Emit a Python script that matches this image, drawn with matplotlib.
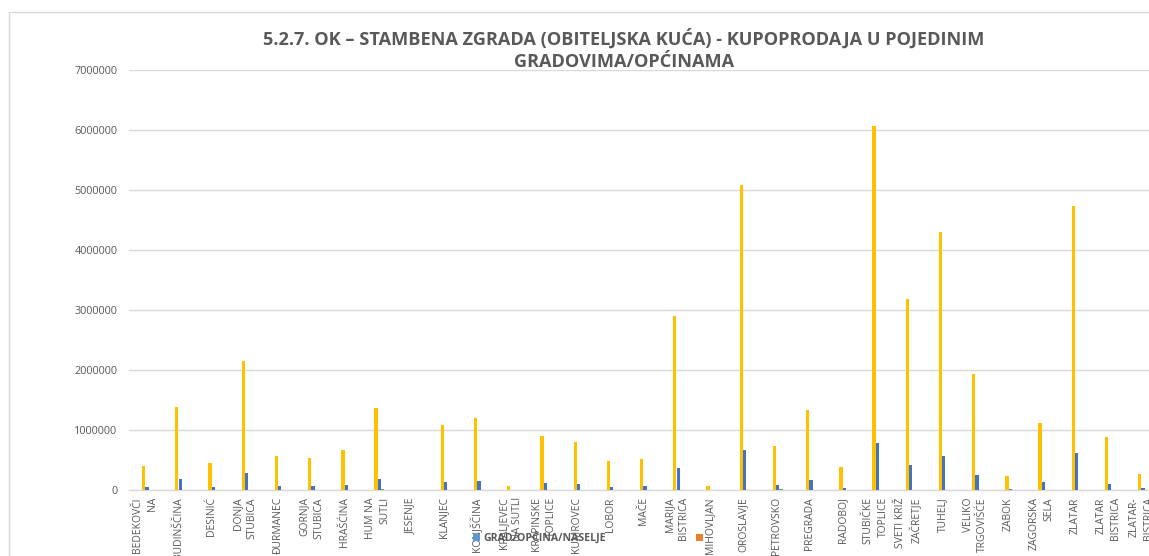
import matplotlib
matplotlib.use("Agg")
import matplotlib.pyplot as plt
from matplotlib.patches import Rectangle
import numpy as np

plt.rcParams['font.family'] = ['Open Sans', 'DejaVu Sans']

categories = [
    "BEDEKOVČI\nNA", "BUDINŠČINA", "DESINIĆ", "DONJA\nSTUBICA", "ĐURMANEC",
    "GORNJA\nSTUBICA", "HRAŠĆINA", "HUM NA\nSUTLI", "JESENJE", "KLANJEC",
    "KONJŠČINA", "KRALJEVEC\nNA SUTLI", "KRAPINSKE\nTOPLICE", "KUMROVEC", "LOBOR",
    "MAČE", "MARIJA\nBISTRICA", "MIHOVLJAN", "OROSLAVJE", "PETROVSKO",
    "PREGRADA", "RADOBOJ", "STUBIČKE\nTOPLICE", "SVETI KRIŽ\nZAČRETJE", "TUHELJ",
    "VELIKO\nTRGOVIŠĆE", "ZABOK", "ZAGORSKA\nSELA", "ZLATAR", "ZLATAR\nBISTRICA",
    "ZLATAR-\nBISTRICA",
]

yellow_vals = [
    405000, 1390000, 450000, 2155000, 572000,
    533000, 672000, 1372000, 0, 1088000,
    1205000, 72000, 905000, 810000, 489000,
    528000, 2910000, 70000, 5090000, 744000,
    1344000, 383000, 6067000, 3183000, 4300000,
    1944000, 244000, 1117000, 4733000, 883000,
    267000,
]

blue_vals = [
    55000, 183000, 55000, 283000, 72000,
    68000, 88000, 183000, 0, 144000,
    155000, 0, 122000, 105000, 55000,
    66000, 380000, 0, 667000, 94000,
    167000, 44000, 795000, 417000, 567000,
    250000, 28000, 144000, 622000, 111000,
    33000,
]

green_vals = [
    0, 0, 0, 0, 0,
    0, 0, 15000, 0, 0,
    0, 0, 0, 0, 0,
    0, 8000, 0, 0, 28000,
    0, 0, 0, 0, 0,
    0, 0, 0, 10000, 0,
    0,
]

legend_label = "GRAD/OPĆINA/NASELJE"
title = "5.2.7. OK – STAMBENA ZGRADA (OBITELJSKA KUĆA) - KUPOPRODAJA U POJEDINIM\nGRADOVIMA/OPĆINAMA"

W, H = 1149, 556
fig = plt.figure(figsize=(W / 100, H / 100), dpi=100)

# chart frame (partially cropped)
fig.patches.append(Rectangle((9 / W, -0.1), 1.2, (H - 12) / H + 0.1,
                             transform=fig.transFigure, fill=False,
                             edgecolor='#D9D9D9', linewidth=1.0))

left_px, right_px = 128.7, 1149
bottom_px, top_px = 490.3, 70.3
ax = fig.add_axes([left_px / W, (H - bottom_px) / H,
                   (right_px - left_px) / W, (bottom_px - top_px) / H])

x = np.arange(len(categories))
bw = 0.1
ax.bar(x - bw / 2, yellow_vals, width=bw, color='#FFC000', zorder=3)
ax.bar(x + bw / 2, blue_vals, width=bw, color='#4472C4', zorder=3)
ax.bar(x + 1.5 * bw, green_vals, width=bw, color='#70AD47', zorder=3)

slot = 33.2
ax.set_xlim(-0.5, (right_px - left_px) / slot - 0.5)
ax.set_ylim(0, 7000000)
ax.set_yticks(np.arange(0, 7000001, 1000000))
ax.set_yticklabels([str(v) for v in range(0, 7000001, 1000000)])
ax.grid(axis='y', color='#D9D9D9', linewidth=1.0, zorder=0)
ax.set_axisbelow(True)
for s in ['top', 'right', 'left']:
    ax.spines[s].set_visible(False)
ax.spines['bottom'].set_color('#D9D9D9')
ax.spines['bottom'].set_linewidth(1.0)

ax.set_xticks(x)
ax.set_xticklabels(categories, rotation=90, ha='center', va='top',
                   multialignment='right', linespacing=1.45)
ax.tick_params(axis='x', length=0, pad=5, labelsize=7.5, labelcolor='#595959')
ax.tick_params(axis='y', length=0, pad=8, labelsize=7.8, labelcolor='#595959')

fig.text(624 / W, 1 - 28.5 / H, title, ha='center', va='top', fontsize=13.1,
         fontweight='bold', color='#595959', linespacing=1.3)

# legend (bottom, partially overlapping the labels)
fig.patches.append(Rectangle((473 / W, 1 - 541 / H), 7 / W, 7 / H,
                             transform=fig.transFigure, facecolor='#5B9BD5',
                             edgecolor='none'))
fig.text(483 / W, 1 - 537.5 / H, legend_label, ha='left', va='center',
         fontsize=7.6, fontweight='bold', color='#595959')
fig.patches.append(Rectangle((696 / W, 1 - 541 / H), 7 / W, 7 / H,
                             transform=fig.transFigure, facecolor='#ED7D31',
                             edgecolor='none'))

fig.savefig("out.png", dpi=100)
